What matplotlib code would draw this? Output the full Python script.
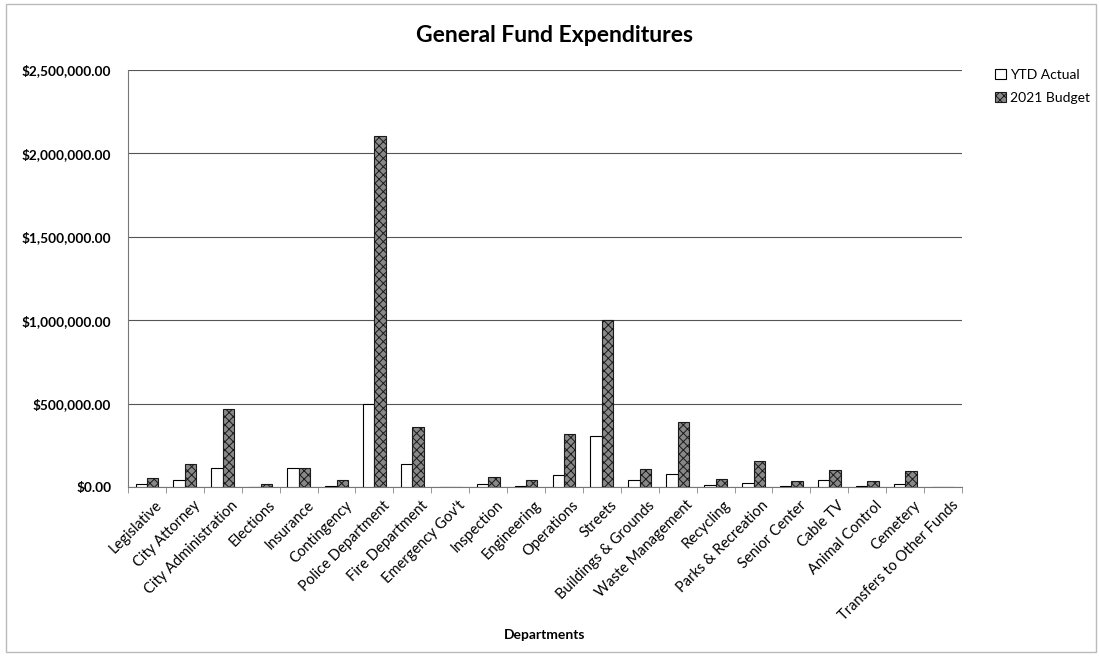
import numpy as np
import matplotlib
matplotlib.use('Agg')
import matplotlib.pyplot as plt
import matplotlib.transforms as mtransforms
from matplotlib.ticker import FuncFormatter
from matplotlib.patches import Rectangle

plt.rcParams['font.family'] = ['Lato', 'DejaVu Sans']
plt.rcParams['hatch.linewidth'] = 0.7

departments = [
    'Legislative', 'City Attorney', 'City Administration', 'Elections',
    'Insurance', 'Contingency', 'Police Department', 'Fire Department',
    "Emergency Gov't", 'Inspection', 'Engineering', 'Operations', 'Streets',
    'Buildings & Grounds', 'Waste Management', 'Recycling',
    'Parks & Recreation', 'Senior Center', 'Cable TV', 'Animal Control',
    'Cemetery', 'Transfers to Other Funds',
]
ytd_actual = [
    20000, 40000, 115000, 2000, 115000, 8000, 500000, 135000, 0, 15000,
    5000, 74000, 306000, 40000, 76000, 10000, 25000, 5000, 44000, 5000,
    20000, 0,
]
budget_2021 = [
    55000, 138000, 470000, 18000, 112000, 40000, 2105000, 362000, 0, 62000,
    40000, 320000, 1000000, 106000, 392000, 50000, 156000, 35000, 102000, 35000,
    96000, 0,
]
y_ticks = [0, 500000, 1000000, 1500000, 2000000, 2500000]

fig = plt.figure(figsize=(10.99, 6.56), dpi=100)
ax = fig.add_axes([128 / 1099, 1 - 487 / 656, (962 - 128) / 1099, (487 - 70) / 656])

x = np.arange(len(departments))
w = 0.3
ax.bar(x - w / 2, ytd_actual, w, facecolor='white', edgecolor='black',
       linewidth=0.8, label='YTD Actual', zorder=3)
ax.bar(x + w / 2, budget_2021, w, facecolor='#888888', edgecolor='#1a1a1a',
       hatch='xxxx', linewidth=0.8, label='2021 Budget', zorder=3)

ax.set_xlim(-0.5, len(departments) - 0.5)
ax.set_ylim(0, 2500000)
ax.set_yticks(y_ticks)
ax.yaxis.set_major_formatter(FuncFormatter(lambda v, p: f'${v:,.2f}'))
ax.grid(axis='y', color='#555555', linewidth=0.8, zorder=0)
ax.tick_params(axis='y', length=0, labelsize=9.8, pad=12)
for lbl in ax.get_yticklabels():
    lbl.set_fontweight('bold')

ax.set_xticks(x)
ax.set_xticklabels(departments, rotation=45, ha='right', rotation_mode='anchor',
                   fontsize=10.5)
ax.set_xticks(np.arange(-0.5, len(departments)), minor=True)
ax.tick_params(axis='x', which='minor', length=4, color='#888888')
ax.tick_params(axis='x', which='major', length=0, pad=8)
shift = mtransforms.ScaledTranslation(8 / 100, 0, fig.dpi_scale_trans)
for lbl in ax.get_xticklabels():
    lbl.set_transform(lbl.get_transform() + shift)

for side in ['top', 'right']:
    ax.spines[side].set_visible(False)
ax.spines['left'].set_color('#777777')
ax.spines['bottom'].set_color('#777777')

ax.set_xlabel('Departments', fontsize=10, fontweight='bold')
ax.xaxis.set_label_coords(0.5, -0.34)
fig.text(555 / 1099, 1 - 36 / 656, 'General Fund Expenditures', ha='center',
         va='center', fontsize=16.5, fontweight='bold')

fig.legend(loc='upper left', bbox_to_anchor=(982 / 1099, 1 - 56 / 656),
           frameon=False, fontsize=10, handlelength=0.8, handleheight=0.8,
           handletextpad=0.3, labelspacing=0.8)

fig.patches.append(Rectangle((6 / 1099, 4 / 656), 1090 / 1099, 648 / 656,
                             transform=fig.transFigure, fill=False,
                             edgecolor='#bbbbbb', linewidth=1.0))

fig.savefig('out.png', dpi=100)
